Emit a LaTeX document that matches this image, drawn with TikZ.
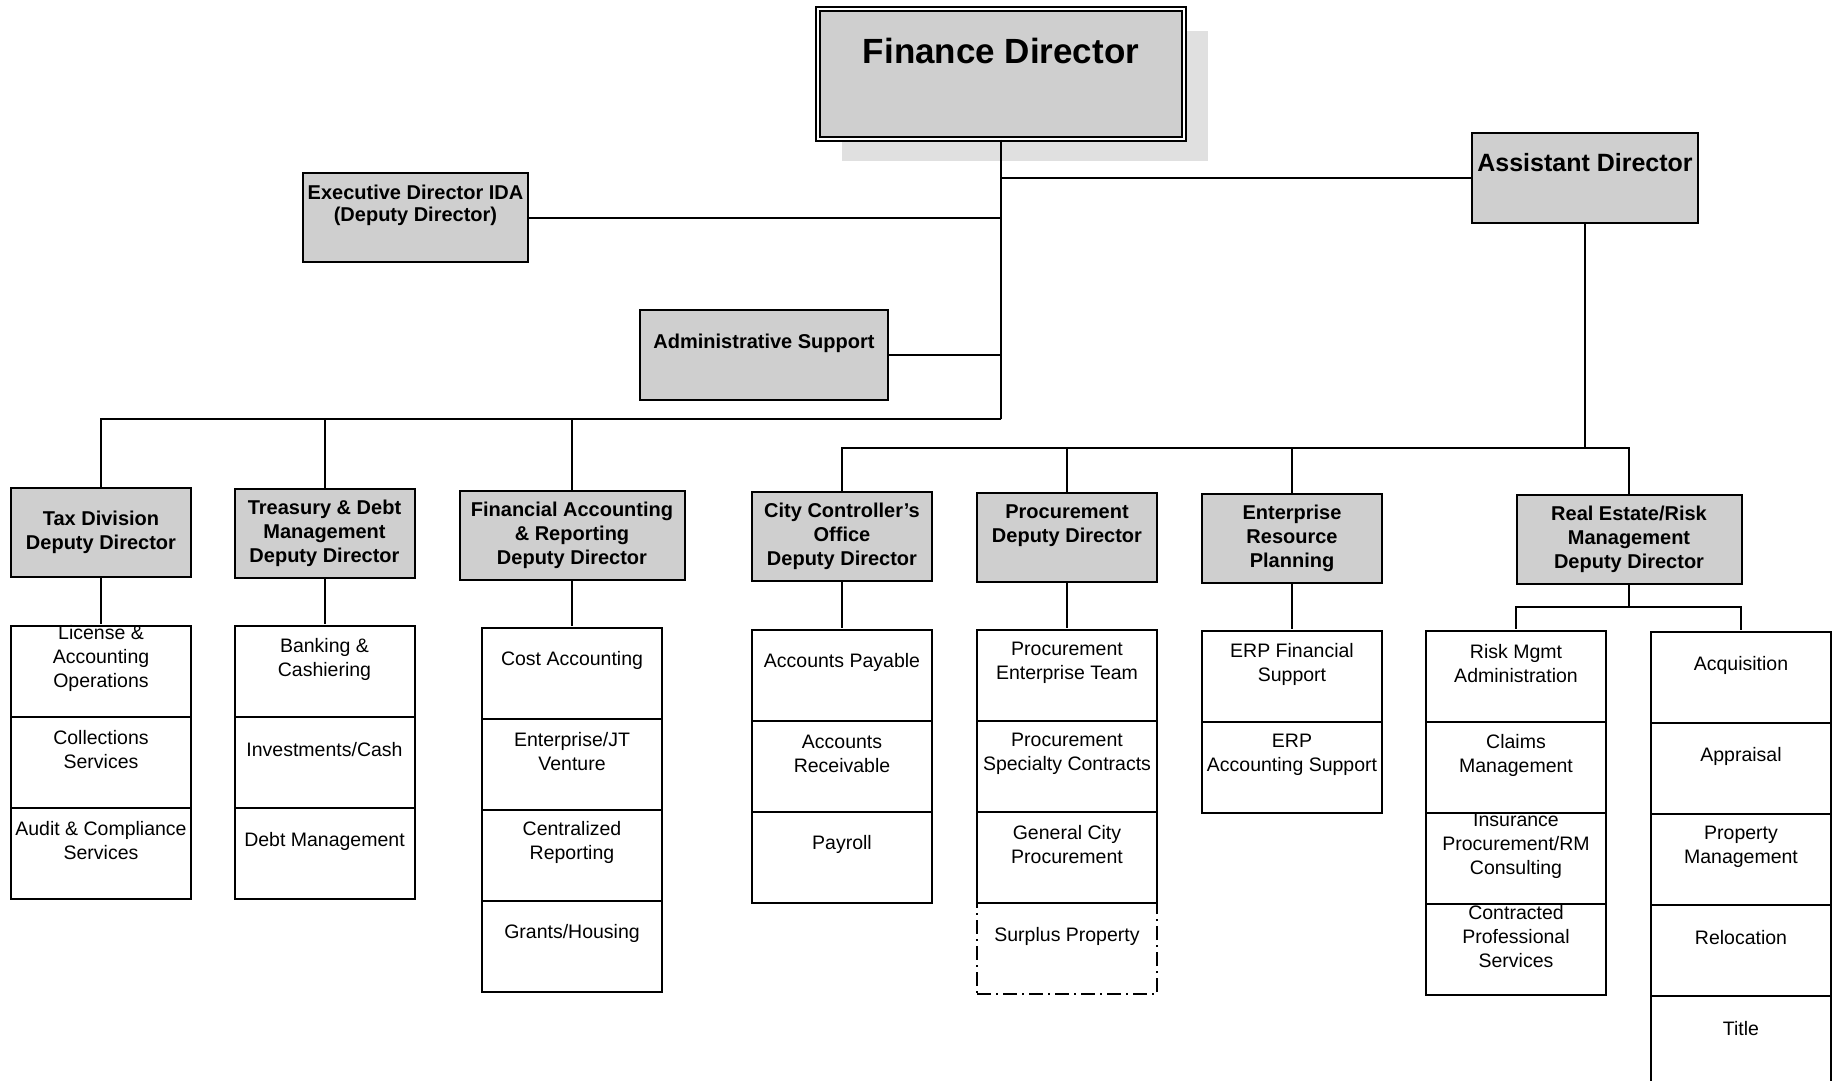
\documentclass[tikz,border=0pt]{standalone}
\usepackage{fontspec}
\setmainfont{Liberation Sans}
\usetikzlibrary{matrix,positioning,shadows}

\definecolor{headgray}{gray}{0.81}
\definecolor{shadegray}{gray}{0.88}

\newcommand{\stacktext}[1]{%
  \parbox[c][91pt][c]{180pt}{\centering #1\par\vspace{25pt}}}

\tikzset{
  headtext/.style={align=center, font=\bfseries\fontsize{20}{24}\selectfont},
  toptext/.style={align=center, font=\bfseries\fontsize{20}{21.5}\selectfont},
  topbox/.style={draw, fill=headgray, inner sep=0pt},
  head/.style={topbox, headtext, minimum width=180pt, minimum height=89pt},
  wide/.style={minimum width=225pt},
  cell/.style={draw, inner sep=0pt, anchor=center,
    font=\fontsize{19.5}{24}\selectfont},
  stack/.style={matrix of nodes, inner sep=0pt, row sep=-2pt,
    nodes={cell}},
  planned/.style={dash pattern=on 14pt off 5pt on 2pt off 5pt},
}

\begin{document}
\begin{tikzpicture}[x=1pt, y=-1pt, line width=2pt]
  \useasboundingbox (0,0) rectangle (1833,1080);

  \node[topbox, double=white, double distance=2.4pt, line width=1.6pt,
        minimum width=366pt, minimum height=130pt,
        drop shadow={shadow xshift=24pt, shadow yshift=-22pt,
                     fill=shadegray, opacity=1},
        label={[toptext, font=\bfseries\fontsize{35}{40}\selectfont,
                yshift=23pt]center:Finance Director}]
        (fd) at (1001,74) {};
  \node[topbox, minimum width=226pt, minimum height=90pt,
        label={[toptext, font=\bfseries\fontsize{25}{28}\selectfont,
                yshift=15pt]center:Assistant Director}]
        (ad) at (1585,178) {};
  \node[topbox, minimum width=225pt, minimum height=89pt,
        label={[toptext, yshift=12pt]center:Executive Director IDA\\(Deputy Director)}]
        (ida) at (415.5,217.5) {};
  \node[topbox, minimum width=248pt, minimum height=90pt,
        label={[toptext, yshift=12pt]center:Administrative Support}]
        (admin) at (764,355) {};

  \node[head] (taxdd) at (101,532.5) {Tax Division\\Deputy Director};
  \node[head] (treasdd) at (324.5,533) {Treasury \& Debt\\Management\\Deputy Director};
  \node[head, wide] (fadd) at (572,535) {Financial Accounting\\\& Reporting\\Deputy Director};
  \node[head] (ccdd) at (842,536.5) {City Controller's\\Office\\Deputy Director};
  \node[head, label={[headtext, yshift=12pt]center:Procurement\\Deputy Director}]
        (procdd) at (1067,537.5) {};
  \node[head] (erp) at (1292,538.5) {Enterprise\\Resource\\Planning};
  \node[head, wide] (redd) at (1629,539.5) {Real Estate/Risk\\Management\\Deputy Director};

  \matrix (taxunits) [stack, below=45.5pt of taxdd] {
    \stacktext{License \&\\Accounting\\Operations} \\
    \stacktext{Collections\\Services} \\
    \stacktext{Audit \& Compliance\\Services} \\
  };
  \matrix (treasunits) [stack, below=45.5pt of treasdd] {
    \stacktext{Banking \&\\Cashiering} \\
    \stacktext{Investments/Cash} \\
    \stacktext{Debt Management} \\
  };
  \matrix (faunits) [stack, below=45pt of fadd] {
    \stacktext{Cost Accounting} \\
    \stacktext{Enterprise/JT\\Venture} \\
    \stacktext{Centralized\\Reporting} \\
    \stacktext{Grants/Housing} \\
  };
  \matrix (ccunits) [stack, below=45.5pt of ccdd] {
    \stacktext{Accounts Payable} \\
    \stacktext{Accounts\\Receivable} \\
    \stacktext{Payroll} \\
  };
  \matrix (procunits) [stack, below=45pt of procdd] {
    \stacktext{Procurement\\Enterprise Team} \\
    \stacktext{Procurement\\Specialty Contracts} \\
    \stacktext{General City\\Procurement} \\
    |[planned]| \stacktext{Surplus Property} \\
  };
  \matrix (erpunits) [stack, below=45pt of erp] {
    \stacktext{ERP Financial\\Support} \\
    \stacktext{ERP\\Accounting Support} \\
  };
  \matrix (riskunits) [stack, anchor=north] at (1516,629) {
    \stacktext{Risk Mgmt\\Administration} \\
    \stacktext{Claims\\Management} \\
    \stacktext{Insurance\\Procurement/RM\\Consulting} \\
    \stacktext{Contracted\\Professional\\Services} \\
  };
  \matrix (estateunits) [stack, anchor=north] at (1741,630) {
    \stacktext{Acquisition} \\
    \stacktext{Appraisal} \\
    \stacktext{Property\\Management} \\
    \stacktext{Relocation} \\
    \stacktext{Title} \\
  };

  \coordinate (lbus) at (1001,419);
  \coordinate (rbus) at (1585,448);
  \coordinate (rebranch) at (1629,607);
  \draw (fd.south) -- (lbus);
  \draw (fd.south |- ad.west) -- (ad.west);
  \draw (ida.east) -- (ida.east -| fd.south);
  \draw (admin.east) -- (admin.east -| fd.south);
  \foreach \dd in {taxdd,treasdd,fadd}
    \draw (lbus) -| (\dd.north);
  \draw (ad.south) -- (rbus);
  \foreach \dd in {ccdd,procdd,erp,redd}
    \draw (rbus) -| (\dd.north);
  \foreach \dd/\st in {taxdd/taxunits,treasdd/treasunits,fadd/faunits,
                       ccdd/ccunits,procdd/procunits,erp/erpunits}
    \draw (\dd.south) -- (\st.north);
  \draw (redd.south) -- (rebranch);
  \draw (rebranch) -| (riskunits.north);
  \draw (rebranch) -| (estateunits.north);
\end{tikzpicture}
\end{document}
